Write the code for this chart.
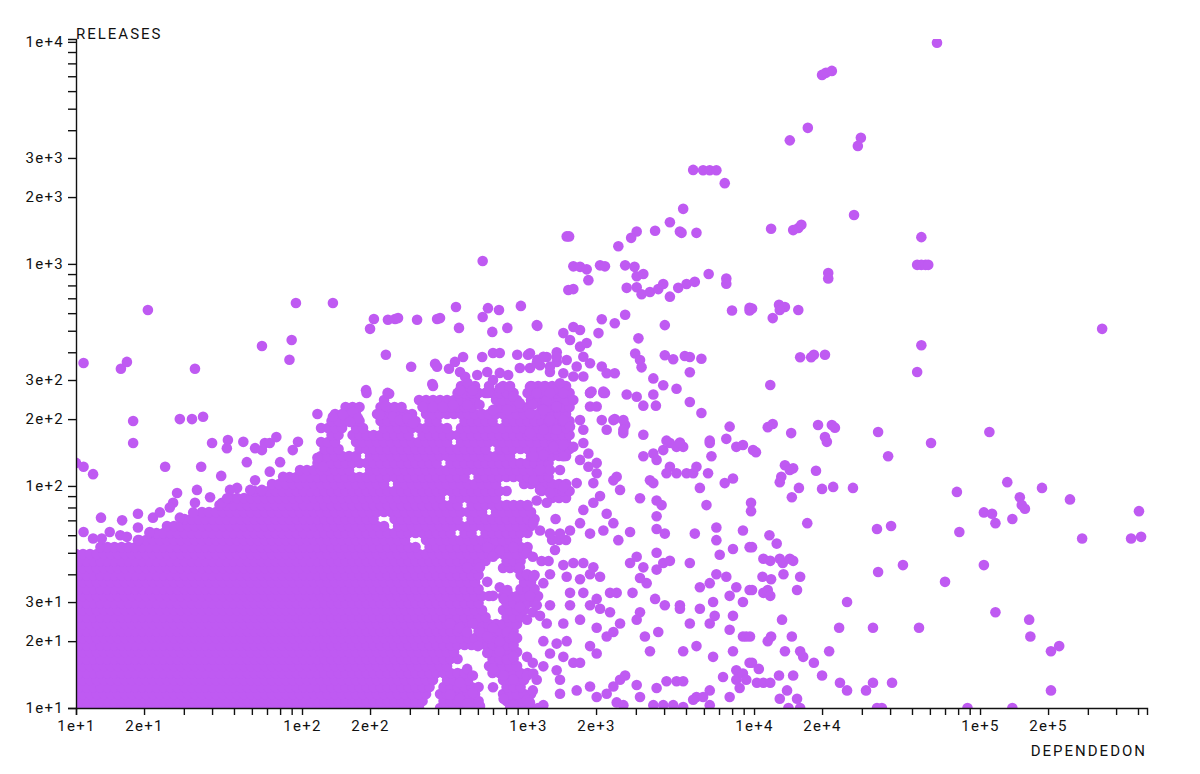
<!DOCTYPE html>
<html>
  <head>
    <meta charset="UTF-8" />
    <style>
      body {
        margin: 0;
        background: #fff;
      }
      svg text {
        font-family: Roboto, "Noto Sans", sans-serif;
      }
    </style>
  </head>
  <body>
    <svg></svg>
    <script src="https://d3js.org/d3.v7.min.js"></script>
    <script>
      // dependedOn levels used to fill the dense core of the cloud
      const depLevels = [
        10, 10.74, 11.53, 12.38, 13.3, 14.28, 15.34, 16.47, 17.69, 19, 20.4,
        21.91, 23.53, 25.27, 27.14, 29.15, 31.3, 33.62, 36.1, 38.77, 41.64,
        44.72, 48.02, 51.57, 55.39, 59.48, 63.88, 68.6, 73.68, 79.12, 84.97,
        91.25, 98, 105.2, 113, 121.4, 130.4, 140, 150.4, 161.5, 173.4, 186.2,
        200, 214.8, 230.7, 247.7, 266, 285.7, 306.8, 329.5, 353.9, 380, 408.1,
        438.3, 470.7, 505.5, 542.9, 583, 626.1, 672.4, 722.1, 775.5, 832.8,
        894.4, 960.5, 1031, 1108, 1190, 1278, 1372, 1473, 1582,
      ];
      // the same levels half a step over, for every other row
      const depLevelsOdd = [
        10.36, 11.13, 11.95, 12.83, 13.78, 14.8, 15.9, 17.07, 18.33, 19.69,
        21.14, 22.71, 24.38, 26.19, 28.13, 30.21, 32.44, 34.84, 37.41, 40.18,
        43.15, 46.34, 49.76, 53.44, 57.4, 61.64, 66.2, 71.09, 76.35, 81.99,
        88.05, 94.56, 101.6, 109, 117.1, 125.8, 135.1, 145.1, 155.9, 167.4,
        179.7, 193, 207.3, 222.6, 239.1, 256.7, 275.7, 296.1, 318, 341.5, 366.7,
        393.8, 422.9, 454.2, 487.8, 523.9, 562.6, 604.2, 648.8, 696.8, 748.3,
        803.7, 863.1, 926.9, 995.4, 1069, 1148, 1233, 1324, 1422, 1527, 1640,
      ];

      // dense core: [releases, [from, to], ...] dependedOn runs per row
      const coreRows = [
        [10, [10, 333], [396, 583], [790, 1130]],
        [10.75, [10, 350], [396, 613], [790, 1020]],
        [11.56, [10, 368], [408, 596], [775, 1074]],
        [12.43, [10, 380], [408, 613], [751, 968]],
        [13.37, [10, 400], [430, 554], [730, 1020]],
        [14.38, [10, 430], [452, 527], [680, 1020]],
        [15.46, [10, 470], [658, 922]],
        [16.62, [10, 500], [658, 922]],
        [17.87, [10, 500], [658, 960]],
        [19.22, [10, 922]],
        [20.67, [10, 922]],
        [22.22, [10, 560], [600, 922]],
        [23.89, [10, 922]],
        [25.69, [10, 658], [751, 960]],
        [27.63, [10, 658], [751, 1000]],
        [29.71, [10, 640], [751, 1130]],
        [31.95, [10, 680], [751, 1130]],
        [34.35, [10, 613], [922, 1130]],
        [36.94, [10, 596], [922, 1074]],
        [39.72, [10, 613], [922, 1096]],
        [42.71, [10, 613], [751, 960]],
        [45.93, [10, 680], [751, 960], [1130, 1251]],
        [49.39, [10, 1000]],
        [53.11, [12, 333], [366, 809], [922, 1050]],
        [57.11, [19, 300], [330, 922], [1214, 1488]],
        [61.41, [21, 460], [500, 571], [632, 1050]],
        [66.03, [25, 238], [260, 1050]],
        [71, [29, 221], [240, 500], [540, 1096], [1251, 1386]],
        [76.35, [34, 650], [700, 1096]],
        [82.1, [41, 500], [540, 1050]],
        [88.28, [48, 420], [450, 775], [1214, 1534]],
        [94.93, [59, 809], [1130, 1534]],
        [102.1, [72, 238], [260, 775], [900, 1534]],
        [109.8, [88, 560], [600, 1290]],
        [118, [98, 168], [190, 1251]],
        [126.9, [114, 400], [430, 1251]],
        [136.5, [120, 175], [190, 859], [990, 1534]],
        [146.8, [120, 152], [175, 650], [700, 1534]],
        [157.8, [120, 147], [168, 466], [500, 1534]],
        [169.7, [129, 147], [163, 300], [330, 1534]],
        [182.5, [120, 152], [163, 194], [215, 439], [485, 1534]],
        [196.2, [133, 186], [215, 333], [343, 421], [500, 700], [751, 1534]],
        [211, [133, 186], [206, 310], [333, 439], [466, 1534]],
        [226.9, [147, 181], [215, 292], [323, 596], [700, 1050], [1096, 1534]],
        [244, [228, 245], [323, 596], [700, 950], [990, 1534]],
        [262.4, [181, 200], [228, 253], [466, 613], [632, 922], [990, 1534]],
        [282.1, [358, 388], [485, 596], [632, 700], [751, 859], [990, 1534]],
      ];

      // [dependedOn, releases] around the core
      const clusterPoints = [
        [10,127],[10.8,122],[11.9,113],[10.8,358],[20.8,620],[15.8,337],[16.8,362],[33.6,337],
        [17.9,196],[17.9,156],[28.8,200],[32.6,200],[36.5,205],[66.5,427],[94,667],[90,454],
        [88,370],[117,211],[40,156],[47,161],[46.5,148],[55,158],[62,148],[66.5,145],[68.5,156],
        [72,156],[77,166],[96,158],[91,145],[117,134],[124,122],[57,128],[80,128],[72,116],
        [82.5,110],[24.8,122],[35.8,122],[43.9,111],[62,106],[59,96],[66.5,96],[51.6,98],[48,96],
        [34.3,96],[28,93],[26.9,84],[33.6,84],[39.2,89],[44.3,84],[46.6,88],[18.8,75],[21.9,72],
        [23.5,76],[12.9,72],[16,70],[10.8,62],[11.9,58],[13,58],[14.1,62],[15.7,60],[16.8,59],
        [18.8,65],[21.2,62],[18.8,57],[26,80],[28.8,72],[33,76],
        [137,667],[200,510],[208,565],[240,560],[258,565],[266,570],[323,560],[396,565],[408,570],
        [480,640],[495,515],[630,577],[665,632],[744,620],[695,494],[810,515],[930,647],[1100,526],
        [235,390],[304,344],[388,355],[396,344],[447,337],[475,362],[516,381],[377,288],[627,381],
        [700,397],[750,397],[896,390],[1000,390],[1100,370],[1210,381],[1340,400],[192,270],
        [243,260],[235,229],[500,326],[527,310],[540,291],[596,316],[660,326],[700,300],[750,323],
        [817,316],[920,340],[1020,340],[1130,350],[1250,326],[1340,362],[500,270],[570,270],
        [665,262],[750,276],[860,252],[1050,280],[1165,270],[1290,270],[343,227],[380,227],
        [420,227],[466,232],[538,232],[610,232],[700,220],[810,220],[920,236],[1050,232],
        [1210,244],[1340,227],[137,205],[152,209],[168,215],[177,202],[163,194],[221,209],
        [253,205],[271,198],[292,202],[310,192],[630,1030],
        [660,53],[750,51],[860,53],[990,50],[1050,48],[700,48],[920,43],[990,40],[538,43],
        [613,43],[660,37],[750,35],[810,34],[700,32],[780,31],[920,28.5],[1050,27],[990,25],
        [1130,26],[452,24],[500,23],[538,22],[570,24],[613,22],[660,21],[700,23],[750,20],
        [810,22],[860,21],[600,19],[660,17.7],[750,18],[810,16.5],[860,17],[990,17],[1050,16],
        [538,15],[570,14],[700,15],[780,14],[860,13.4],[990,14],[500,13],[452,11.5],[500,11],
        [538,10.5],[570,11.7],[780,11],[860,10.3],[990,10.9],[1050,12],[700,12.4],[613,10.2],
      ];

      // [dependedOn, releases] in the 1e+3 .. 1e+4 band
      const midPoints = [
        [1055,136],[1169,138],[1294,150],[1433,153],[1587,150],[1757,156],[1850,140],[2013,127],
        [1850,122],[1699,131],[1433,136],[1385,118],[1251,118],[1130,118],[1055,106],[1130,96],
        [1251,93],[1433,99],[1642,103],[1946,103],[2083,90],[1946,84],[1757,78],[2229,75],
        [2386,68],[2155,63],[1881,61],[1699,68],[1534,63],[1385,61],[1251,61],[1130,63],
        [1055,68],[1093,86],[1210,84],[2013,114],[2386,106],[2554,96],[2468,110],
        [3130,88],[3707,86],[3900,82],[3707,73],[3707,64],[4030,61],[2828,62],[2510,57],
        [3238,136],[3585,140],[3966,145],[4244,156],[4541,150],[4859,150],[3707,131],[4244,122],
        [4541,114],[4100,114],[3464,106],[3585,103],[5030,114],[5380,114],[5563,122],[6369,156],
        [6480,136],[6260,114],[5760,98],[6160,82],[7420,103],[8070,108],[8349,150],[8933,153],
        [1316,51.5],[1433,44],[1587,45],[1757,45],[1946,43],[1881,40],[2083,39],[1699,38],
        [1483,39],[1251,40],[1055,39],[1169,36.5],[1534,33],[1757,33],[2013,31],[2306,33],
        [2468,33],[1020,32],[1093,29],[1251,29],[1534,29],[1881,29],[2083,28],[2306,27],
        [1210,24],[1433,24],[1699,25],[2013,23],[2229,21],[2386,22],[2554,24],[2828,45],
        [3026,48],[3238,43],[3707,50],[3966,45],[4244,46],[3707,42],[3350,36.5],[3130,38.5],
        [2900,33],[3650,31],[4030,29],[4700,29],[5199,45],[5470,61],[6815,65],[6815,57],
        [7050,49],[8070,52],[8933,63],[9559,53],[5760,35],[6369,36.5],[6815,40],[7540,39],
        [8349,35],[7802,32],[8933,30],[9559,34],[6590,30],[6700,26],[8070,26],[7802,22.5],
        [8933,21],[9240,21],[6369,24],[5760,28],[5199,24],[4700,28],[3130,27],[3026,25],
        [3290,21],[3770,22],[3464,18],[4859,18],[5563,19],[6590,17],[8070,18],[9559,16],
        [1169,20],[1339,19.5],[1483,20],[1251,17.6],[1433,17],[1587,16],[1699,16],[1881,19],
        [2013,17.6],[1169,15.4],[1339,14.8],[1385,13.4],[1093,13.4],[1055,14.3],[1385,11.6],
        [1642,12],[1881,12.5],[2013,11.2],[2229,11.6],[2386,12.5],[2554,13.4],[2690,14],
        [3026,12.7],[3130,11.2],[3707,12.3],[4100,13.2],[4541,13.2],[4859,13.2],[5563,11.2],
        [6369,12],[5952,11.2],[7802,11.2],[8349,14.8],[8349,13.4],[8640,12.3],[8933,14.3],
        [7292,13.8],[9240,13.4],[1020,10.6],[1169,10.3],[2468,10.6],[2642,10.3],[3585,10.3],
        [3966,10.3],[4390,10.3],[4859,10.1],[5380,10.9],[6369,10.3],
        [5380,2650],[5952,2640],[6369,2640],[6815,2640],[7420,2310],[4859,1770],[1483,1330],
        [1520,1330],[4244,1540],[3650,1410],[4700,1400],[4780,1380],[5563,1380],[3026,1400],
        [2860,1310],[2510,1200],[1587,975],[1699,970],[1818,945],[2083,985],[2190,975],
        [1850,845],[1508,763],[1587,770],[2690,985],[2960,970],[3026,880],[3238,900],[2733,780],
        [3026,785],[3180,730],[3464,747],[3770,770],[3966,812],[4244,712],[4620,780],[5030,812],
        [5470,830],[6300,900],[7540,860],[7540,815],[7990,617],[9559,635],[9559,617],[1093,530],
        [1433,488],[1587,520],[1699,504],[2120,563],[2420,540],[2690,590],[2050,488],[4030,530],
        [3080,462],[2980,395],[3130,369],[3180,342],[4030,388],[4390,372],[4940,385],[5199,381],
        [5850,374],[5199,325],[3585,305],[3966,284],[4541,274],[5199,239],[5850,213],[7802,185],
        [2733,258],[3026,252],[3238,230],[3585,258],[3680,230],[2120,198],[2190,262],[1881,262],
        [2420,200],[2690,188],[2640,173],
        [1534,454],[1699,424],[1818,440],[1757,382],[1881,357],[1642,345],[1483,369],[1339,382],
        [1169,382],[1020,396],[1093,357],[1251,345],[1433,322],[1587,311],[1757,311],[1385,290],
        [1169,280],[1020,280],[1093,262],[1251,262],[1433,262],[1587,244],[1339,228],[1169,220],
        [1020,212],[1251,198],[1433,198],[1699,198],[1881,228],[2013,228],[2155,262],[1881,262],
        [2386,198],[2642,198],[2642,179],[2229,179],[1757,179],[1534,185],[1339,179],[1169,179],
        [1020,173],[3238,170],[4100,160],[4700,157],[6369,160],[7540,163],[2120,345],[2229,322],
        [2420,322],[1910,266],[2155,266],
      ];

      // [dependedOn, releases] beyond 1e+4
      const outerPoints = [
        [64500,9900],[20000,7100],[20800,7250],[22100,7400],[17300,4100],[14400,3600],
        [29700,3700],[28800,3400],[27700,1660],[15700,1450],[16200,1500],[14900,1420],
        [11900,1440],[55000,1320],[52700,990],[55000,990],[57400,990],[59000,990],[21300,910],
        [21300,860],
        [9800,630],[12900,655],[13700,640],[13000,620],[15700,620],[12100,570],[347000,510],
        [55000,430],[52700,326],[16000,380],[17900,380],[18400,390],[20600,390],[11800,285],
        [11500,184],[12100,190],[14600,173],[19200,188],[22100,188],[22800,183],[20600,166],
        [21000,158],[35400,175],[60700,156],[110000,175],[39200,136],[9900,145],[10200,142],
        [13700,124],[14900,120],[14400,118],[13200,110],[13000,104],[18800,117],[15800,98],
        [20000,97],[22400,99],[27400,98],[14700,89],[79000,94],[132000,104],[188000,98],
        [250000,87],[150000,89],[153000,82],[158000,79],[104000,76],[113000,75],[117000,68],
        [139000,71],[505000,77],[9700,84],[9700,77],[17200,68],[35000,64],[40400,66],[81000,62],
        [283000,58],[466000,58],[516000,59],[11700,60],[12600,55],[9800,53],[11000,47],
        [11800,46],[13000,47],[13400,45],[14400,47],[14900,46],[45600,44],[35400,41],
        [104000,44],[70000,37],[10900,39],[11900,38],[13500,40],[16000,39],[9800,34],[11000,33],
        [11500,34],[11800,32],[15500,34],[25800,30],[117000,27],[165000,25],[167000,21],
        [13300,25],[23800,23],[33600,23],[53700,23],[9600,21],[11500,20],[11900,21],[14700,21],
        [13700,18],[16000,18],[16500,17],[21500,18],[18400,16],[206000,18],[224000,19],
        [9800,16],[10500,15],[12900,14],[14900,14],[20000,14],[10300,13],[11000,13],[11800,13],
        [24000,13],[25800,12],[31300,12],[33600,13],[40800,13],[206000,12],[14000,12],[13000,11],
        [15500,11],[14200,10],[16000,10],[35000,10],[36800,10],[88000,10],[139000,10],
      ];

      let width = 1200,
        height = 774;
      let margin = { top: 39, right: 53, bottom: 66, left: 76 };

      let svg = d3
        .select("svg")
        .attr("width", width)
        .attr("height", height)
        .attr("viewBox", "0 0 " + width + " " + height);

      let x = d3
        .scaleLog()
        .domain([10, 548000])
        .range([margin.left, width - margin.right]);
      let y = d3
        .scaleLog()
        .domain([10, 10300])
        .range([height - margin.bottom, margin.top]);

      // expand the core runs over the dependedOn levels (rows alternate grids)
      let corePoints = [];
      coreRows.forEach(([rel, ...runs], i) => {
        let levels = i % 2 ? depLevelsOdd : depLevels;
        runs.forEach(([lo, hi]) => {
          levels
            .filter((d) => d >= lo && d <= hi)
            .forEach((d) => corePoints.push([d, rel]));
        });
      });

      let data = corePoints.concat(clusterPoints, midPoints, outerPoints);

      svg
        .append("clipPath")
        .attr("id", "plot")
        .append("rect")
        .attr("x", margin.left)
        .attr("y", margin.top)
        .attr("width", width - margin.left - margin.right)
        .attr("height", height - margin.top - margin.bottom);

      svg
        .append("g")
        .attr("clip-path", "url(#plot)")
        .selectAll("circle")
        .data(data)
        .enter()
        .append("circle")
        .attr("cx", (d) => x(d[0]))
        .attr("cy", (d) => y(d[1]))
        .attr("r", 5.3)
        .attr("fill", "#bf5af2");

      let xAxis = svg
        .append("g")
        .attr("transform", "translate(0," + (height - margin.bottom) + ")")
        .call(
          d3
            .axisBottom(x)
            .tickFormat(x.tickFormat(10, "~e"))
            .tickSize(7)
            .tickPadding(5)
        );

      let yAxis = svg
        .append("g")
        .attr("transform", "translate(" + margin.left + ",0)")
        .call(
          d3
            .axisLeft(y)
            .tickFormat(y.tickFormat(10, "~e"))
            .tickSize(8)
            .tickPadding(4)
        );

      [xAxis, yAxis].forEach((g) => {
        g.attr("font-size", 15).attr("font-family", null);
        g.selectAll("path, line").attr("stroke", "#111").attr("stroke-width", 1.4);
        g.selectAll("text").attr("fill", "#111").style("letter-spacing", "1.3px");
      });

      svg
        .append("text")
        .attr("x", margin.left)
        .attr("y", 39)
        .attr("font-size", 15)
        .attr("fill", "#111")
        .style("letter-spacing", "2px")
        .text("RELEASES");

      svg
        .append("text")
        .attr("x", width - margin.right)
        .attr("y", 756)
        .attr("text-anchor", "end")
        .attr("font-size", 15)
        .attr("fill", "#111")
        .style("letter-spacing", "2px")
        .text("DEPENDEDON");
    </script>
  </body>
</html>
